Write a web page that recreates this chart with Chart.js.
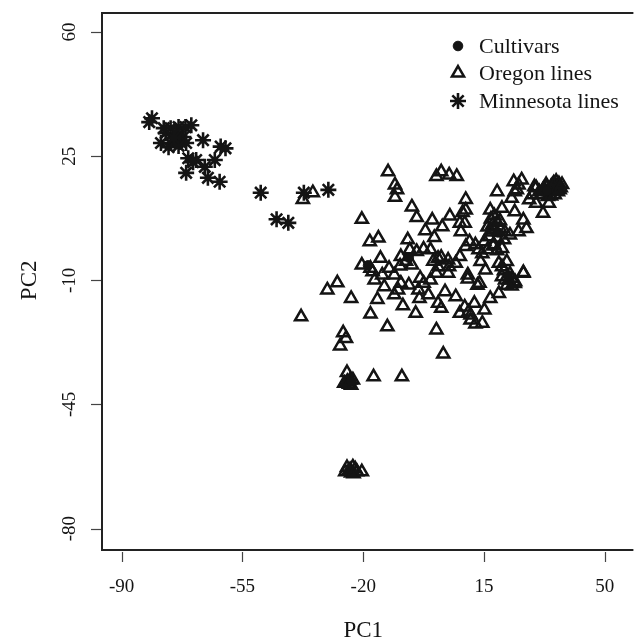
<!DOCTYPE html>
<html lang="en">
<head>
<meta charset="UTF-8">
<title>PCA</title>
<script src="https://cdn.jsdelivr.net/npm/chart.js@4.4.0/dist/chart.umd.min.js"></script>
<style>
  html, body { margin: 0; padding: 0; background: #fff; }
  canvas { display: block; }
</style>
</head>
<body>
<canvas id="grafico" width="639" height="641"></canvas>
<script>
// tick labels of the two axes
const xTicks = [-90, -55, -20, 15, 50];
const yTicks = [60, 25, -10, -45, -80];
const legendLabels = ['Cultivars', 'Oregon lines', 'Minnesota lines'];

// points, [PC1, PC2]
const cultivars = [
  [-18.6, -5.8], [-23.4, -38.6], [33.2, 15.2], [19.0, 3.5], [-6.8, -3.6], [22.0, -8.8]
];

const oregon = [
  [-34.6, 14.7], [-37.5, 12.8], [-20.4, 7.2], [-18.1, 0.9], [-20.4, -5.7],
  [-12.8, 20.6], [-10.8, 16.9], [-10.2, 15.5], [-10.8, 13.4],
  [1.2, 19.3], [2.6, 20.6], [4.9, 19.7], [7.1, 19.3],
  [-5.9, 10.7], [-4.5, 7.7], [9.7, 12.8], [8.8, 9.1], [5.1, 8.1], [8.0, 6.1], [0.0, 7.0],
  [2.9, 5.1], [-2.0, 4.0], [8.3, 3.7], [0.6, 2.1],
  [-15.6, 1.9], [-7.1, 1.4], [-17.9, -6.6], [-9.1, -3.3], [-6.5, -1.4], [-4.5, -1.9],
  [-2.5, -1.2], [-0.5, -1.4], [2.6, -3.5], [4.6, -4.3], [8.0, -3.3], [9.7, -0.5], [10.8, 0.9],
  [-9.3, -6.0], [1.7, -6.2], [4.9, -6.2], [10.3, -8.5],
  [23.6, 17.8], [25.9, 18.3], [24.5, 15.5], [29.6, 16.4], [32.4, 15.9], [34.4, 16.4],
  [35.2, 17.4], [36.4, 15.0], [33.5, 13.6], [31.6, 14.1], [28.1, 12.7], [30.1, 11.7],
  [33.8, 11.7], [32.1, 8.9], [18.8, 15.0], [23.0, 13.1], [16.8, 9.8], [20.2, 10.3],
  [23.9, 9.3], [26.4, 7.0], [27.3, 4.6], [25.0, 3.7], [17.4, 5.6], [18.2, 4.2], [21.0, 3.7],
  [22.5, 2.8], [16.5, 2.3], [15.1, 0.9], [17.9, 0.0], [20.2, -1.0], [12.5, 0.0],
  [14.0, -4.7], [15.4, -7.1], [19.3, -5.2], [21.6, -4.7], [26.4, -8.0], [20.2, -9.0],
  [23.0, -9.4], [10.3, -9.6], [13.1, -11.4], [21.6, -11.4], [23.9, -10.9], [9.7, 9.8], [9.4, 6.1],
  [-27.5, -10.7], [-30.4, -12.7], [-23.5, -15.1], [-15.9, -15.4], [-8.5, -17.2],
  [-17.9, -19.5], [-4.8, -19.3], [-13.0, -23.1], [1.2, -24.0], [-25.8, -24.8],
  [-25.0, -26.4], [-26.7, -28.5], [3.2, -30.8], [-11.0, -14.1], [-13.9, -11.8],
  [-16.7, -9.9], [-17.3, -7.6], [-14.5, -8.5], [-11.0, -8.5], [-9.1, -10.8], [-6.8, -11.3],
  [-4.0, -12.7], [-2.5, -10.8], [-0.5, -9.9], [1.2, -8.0], [3.7, -13.2], [6.8, -14.6],
  [1.7, -16.5], [2.6, -17.9], [8.0, -19.3], [11.1, -19.8], [11.1, -21.2], [14.5, -22.1],
  [15.1, -18.4], [12.2, -16.5], [16.8, -15.1], [19.3, -13.7], [13.7, -10.8], [20.2, -6.2],
  [22.2, -9.9], [6.8, -5.2],
  [-38.0, -20.3], [-24.7, -36.0], [-23.8, -38.1], [-25.5, -39.0], [-23.0, -38.1],
  [-24.1, -39.3], [-23.5, -39.6], [-24.6, -38.5], [-17.0, -37.2], [-8.8, -37.2],
  [-23.8, -63.4], [-20.4, -64.0], [-25.2, -64.0], [-23.0, -62.6], [-21.8, -64.0],
  [-24.7, -62.8], [-23.5, -64.3], [-22.3, -63.2], [-24.2, -63.8], [-22.8, -64.5],
  [1.7, -3.8], [18.8, -1.7], [-3.5, -9.4], [4.6, -8.0], [24.0, -10.4], [26.4, -7.8],
  [30.1, 16.1], [31.0, 15.0], [33.0, 17.0], [35.0, 15.5], [36.1, 16.6], [37.2, 16.1],
  [33.8, 15.0], [32.1, 15.5], [35.5, 14.1], [29.0, 14.1], [36.7, 17.2], [34.4, 13.8],
  [25.0, 16.9], [23.9, 15.0], [34.8, 16.9], [36.9, 15.5], [33.1, 16.3], [35.9, 17.9], [37.6, 17.0],
  [18.8, 6.4], [19.6, 4.7], [16.8, 3.6], [18.8, 1.9], [20.8, 1.4], [17.6, -0.3],
  [16.0, -1.4], [13.4, -1.4], [14.5, -2.5], [17.0, 7.3], [19.6, 6.8], [16.0, 5.0], [18.0, 8.2],
  [20.8, -7.3], [22.5, -8.2], [21.1, -9.9], [23.0, -11.6],
  [-7.6, -4.6], [-5.9, -5.7], [-12.5, -6.6], [0.3, -4.6], [-1.1, -14.1], [-3.7, -15.1],
  [-15.0, -3.8], [-9.9, -12.7],
  [9.4, -17.5], [10.5, -18.9], [12.5, -22.3]
];

const minnesota = [
  [-81.2, 35.7], [-82.0, 34.6], [-75.8, 32.9], [-73.5, 33.2], [-69.8, 33.7], [-71.5, 33.2],
  [-77.2, 31.5], [-74.4, 31.5], [-72.1, 30.4], [-78.6, 28.7], [-75.8, 28.7], [-73.0, 29.0],
  [-71.3, 28.7], [-66.4, 29.5], [-76.4, 27.5], [-73.5, 27.9], [-70.7, 24.4], [-68.4, 23.9],
  [-69.3, 23.3], [-63.0, 23.9], [-61.3, 27.7], [-59.9, 27.2], [-65.9, 22.0], [-71.3, 20.3],
  [-65.0, 18.9], [-61.6, 17.8], [-74.9, 30.1], [-77.8, 32.9],
  [-49.7, 14.7], [-37.2, 14.7], [-30.1, 15.5], [-45.1, 7.2], [-41.7, 6.2]
];

const ink = '#141414';
const serif = "'Liberation Serif', 'Times New Roman', serif";

function toXY(arr) {
  return arr.map(function(p) { return { x: p[0], y: p[1] }; });
}

// styles used both for points and legend symbols
const styles = [
  { pointStyle: 'circle', radius: 4.8, backgroundColor: ink, borderColor: ink, borderWidth: 1 },
  { pointStyle: 'triangle', radius: 7, backgroundColor: 'rgba(0,0,0,0)', borderColor: ink, borderWidth: 2.5 },
  { pointStyle: 'star', radius: 8, backgroundColor: ink, borderColor: ink, borderWidth: 2.6 }
];

// box, ticks, labels and legend in R style
const rAxes = {
  id: 'rAxes',
  afterDraw(chart) {
    const ctx = chart.ctx;
    const ca = chart.chartArea;
    const xs = chart.scales.x;
    const ys = chart.scales.y;
    ctx.save();

    // box (right side falls outside the picture)
    ctx.strokeStyle = '#222';
    ctx.lineWidth = 2;
    ctx.beginPath();
    ctx.moveTo(ca.right + 5, ca.top);
    ctx.lineTo(ca.left, ca.top);
    ctx.lineTo(ca.left, ca.bottom);
    ctx.lineTo(ca.right + 5, ca.bottom);
    ctx.stroke();

    // tick marks
    ctx.lineWidth = 1.2;
    ctx.strokeStyle = '#444';
    xTicks.forEach(function(v) {
      const px = Math.round(xs.getPixelForValue(v)) + 0.5;
      ctx.beginPath();
      ctx.moveTo(px, ca.bottom + 2);
      ctx.lineTo(px, ca.bottom + 12);
      ctx.stroke();
    });
    yTicks.forEach(function(v) {
      const py = Math.round(ys.getPixelForValue(v)) + 0.5;
      ctx.beginPath();
      ctx.moveTo(ca.left - 11, py);
      ctx.lineTo(ca.left - 1, py);
      ctx.stroke();
    });

    // tick labels
    ctx.fillStyle = ink;
    ctx.font = '19px ' + serif;
    ctx.textAlign = 'center';
    ctx.textBaseline = 'middle';
    xTicks.forEach(function(v) {
      ctx.fillText(String(v), xs.getPixelForValue(v), ca.bottom + 37);
    });
    yTicks.forEach(function(v) {
      ctx.save();
      ctx.translate(ca.left - 32, ys.getPixelForValue(v));
      ctx.rotate(-Math.PI / 2);
      ctx.fillText(String(v), 0, 0);
      ctx.restore();
    });

    // axis titles
    ctx.font = '23px ' + serif;
    ctx.fillText('PC1', xs.getPixelForValue(-20), ca.bottom + 81);
    ctx.save();
    ctx.translate(ca.left - 72, ys.getPixelForValue(-10));
    ctx.rotate(-Math.PI / 2);
    ctx.fillText('PC2', 0, 0);
    ctx.restore();

    // legend
    const lx = 458, ly = [46, 73, 101];
    ctx.font = '22px ' + serif;
    ctx.textAlign = 'left';
    legendLabels.forEach(function(lab, i) {
      const st = styles[i];
      ctx.save();
      ctx.fillStyle = st.backgroundColor;
      ctx.strokeStyle = st.borderColor;
      ctx.lineWidth = st.borderWidth;
      Chart.helpers.drawPoint(ctx, { pointStyle: st.pointStyle, radius: st.radius, borderWidth: st.borderWidth, rotation: 0 }, lx, ly[i]);
      ctx.restore();
      ctx.fillText(lab, 479, ly[i] + 1);
    });

    ctx.restore();
  }
};

const data = {
  datasets: [cultivars, oregon, minnesota].map(function(arr, i) {
    const st = styles[i];
    return {
      label: legendLabels[i],
      data: toXY(arr),
      pointStyle: st.pointStyle,
      pointRadius: st.radius,
      pointHoverRadius: st.radius,
      pointBackgroundColor: st.backgroundColor,
      pointBorderColor: st.borderColor,
      pointBorderWidth: st.borderWidth,
      showLine: false
    };
  })
};

const options = {
  responsive: false,
  devicePixelRatio: 1,
  animation: false,
  events: [],
  layout: { padding: { top: 13, left: 0, right: 0, bottom: 0 } },
  plugins: { legend: { display: false }, tooltip: { enabled: false } },
  scales: {
    x: {
      type: 'linear',
      min: -95.68, max: 56.83,
      grid: { display: false },
      border: { display: false },
      ticks: { display: false },
      afterFit(s) { s.height = 91; }
    },
    y: {
      type: 'linear',
      min: -86.03, max: 65.36,
      grid: { display: false },
      border: { display: false },
      ticks: { display: false },
      afterFit(s) { s.width = 102; }
    }
  }
};

new Chart('grafico', { type: 'scatter', data: data, options: options, plugins: [rAxes] });
</script>
</body>
</html>
